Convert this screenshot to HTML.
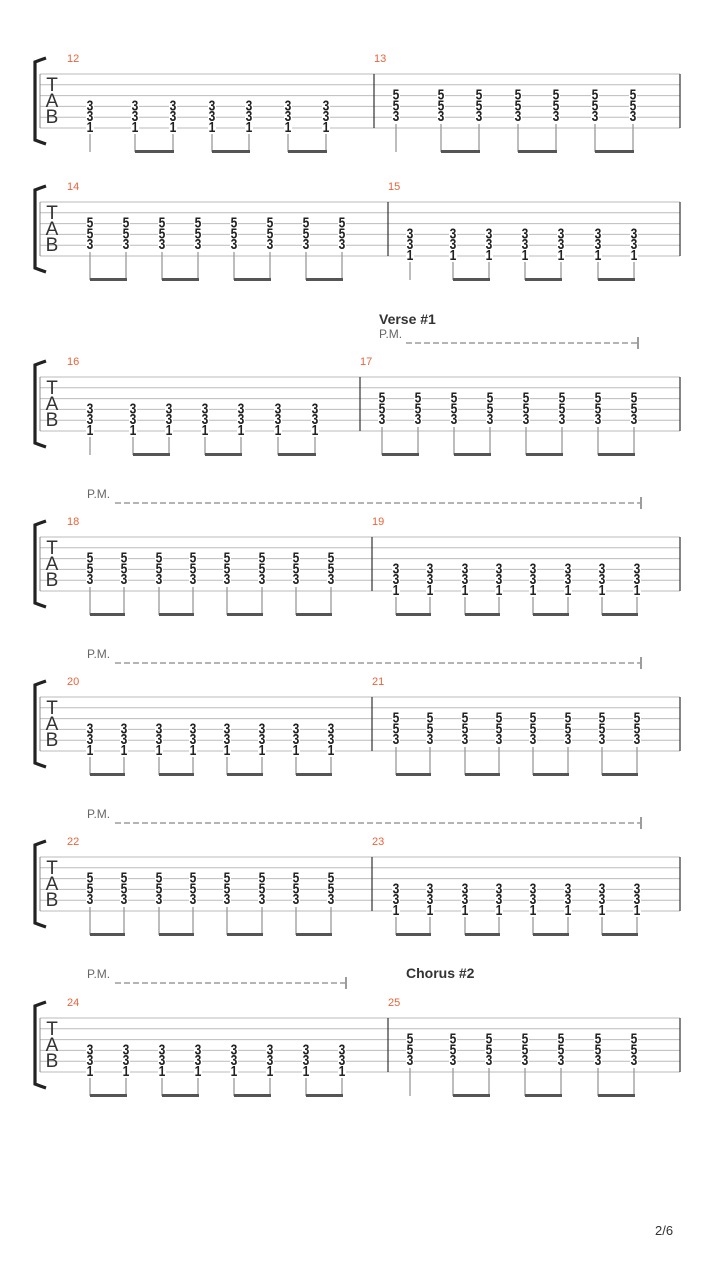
<!DOCTYPE html>
<html><head><meta charset="utf-8"><style>
html,body{margin:0;padding:0;background:#fff;}
svg{display:block;font-family:"Liberation Sans","DejaVu Sans",sans-serif;}
</style></head><body>
<svg id="s" width="720" height="1280" xmlns="http://www.w3.org/2000/svg"></svg>
<script>
var S=[
 {t:74,bar:374,m:[12,13],a:{x:[90,135,173,212,249,288,326],c:'331',single:1},b:{x:[396,441,479,518,556,595,633],c:'553',single:1}},
 {t:202,bar:388,m:[14,15],a:{x:[90,126,162,198,234,270,306,342],c:'553'},b:{x:[410,453,489,525,561,598,634],c:'331',single:1}},
 {t:377,bar:360,m:[16,17],a:{x:[90,133,169,205,241,278,315],c:'331',single:1},b:{x:[382,418,454,490,526,562,598,634],c:'553'}},
 {t:537,bar:372,m:[18,19],a:{x:[90,124,159,193,227,262,296,331],c:'553'},b:{x:[396,430,465,499,533,568,602,637],c:'331'}},
 {t:697,bar:372,m:[20,21],a:{x:[90,124,159,193,227,262,296,331],c:'331'},b:{x:[396,430,465,499,533,568,602,637],c:'553'}},
 {t:857,bar:372,m:[22,23],a:{x:[90,124,159,193,227,262,296,331],c:'553'},b:{x:[396,430,465,499,533,568,602,637],c:'331'}},
 {t:1018,bar:388,m:[24,25],a:{x:[90,126,162,198,234,270,306,342],c:'331'},b:{x:[410,453,489,525,561,598,634],c:'553',single:1}}
];
var h='';var sp=10.8;
function notes(m,t){
 var xs=m.x,c=m.c;var off=(c=='553')?2:3;var bot=t+5*sp;
 xs.forEach(function(x){for(var i=0;i<3;i++){var y=t+(off+i)*sp-1.5;
  h+='<rect x="'+(x-4)+'" y="'+(y-5)+'" width="8" height="10" fill="#fff"/>';
  h+='<text x="'+x+'" y="'+(y+5.5)+'" font-size="15" font-weight="bold" text-anchor="middle" fill="#222" transform="translate('+x+' '+y+') scale(0.8 1) translate('+(-x)+' '+(-y)+')">'+c[i]+'</text>';}
  var st=(c=='553')?bot-4:bot+6;
  h+='<line x1="'+x+'" y1="'+st+'" x2="'+x+'" y2="'+(bot+24)+'" stroke="#999" stroke-width="1.3"/>';});
 var i0=m.single?1:0;
 for(var i=i0;i+1<xs.length;i+=2){h+='<rect x="'+xs[i]+'" y="'+(bot+22)+'" width="'+(xs[i+1]-xs[i]+1)+'" height="3" fill="#555"/>';}
}
S.forEach(function(s){var t=s.t;
 for(var i=0;i<6;i++){var y=t+i*sp;h+='<line x1="40" y1="'+y+'" x2="680" y2="'+y+'" stroke="#bbb" stroke-width="1"/>';}
 h+='<line x1="40" y1="'+t+'" x2="40" y2="'+(t+54)+'" stroke="#888"/>';
 h+='<line x1="'+s.bar+'" y1="'+t+'" x2="'+s.bar+'" y2="'+(t+54)+'" stroke="#333" stroke-width="1.2"/>';
 h+='<line x1="680" y1="'+t+'" x2="680" y2="'+(t+54)+'" stroke="#333" stroke-width="1.2"/>';
 h+='<path d="M46 '+(t-16)+' Q40 '+(t-14)+' 35 '+(t-12)+' L35 '+(t+66)+' Q40 '+(t+68)+' 46 '+(t+70)+'" fill="none" stroke="#222" stroke-width="3.2"/>';
 h+='<text x="52" y="'+(t+17)+'" font-size="19" text-anchor="middle" fill="#333">T</text>';
 h+='<text x="52" y="'+(t+33)+'" font-size="19" text-anchor="middle" fill="#333">A</text>';
 h+='<text x="52" y="'+(t+49)+'" font-size="19" text-anchor="middle" fill="#333">B</text>';
 h+='<text x="67" y="'+(t-12)+'" font-size="11" fill="#e8643c">'+s.m[0]+'</text>';
 h+='<text x="'+s.bar+'" y="'+(t-12)+'" font-size="11" fill="#e8643c">'+s.m[1]+'</text>';
 notes(s.a,t);notes(s.b,t);
});
function pm(x,y,x1,x2){h+='<text x="'+x+'" y="'+(y+4)+'" font-size="12" fill="#666">P.M.</text>';
 h+='<line x1="'+x1+'" y1="'+(y+9)+'" x2="'+x2+'" y2="'+(y+9)+'" stroke="#888" stroke-width="1.3" stroke-dasharray="6,3"/>';
 h+='<line x1="'+(x2+1)+'" y1="'+(y+3)+'" x2="'+(x2+1)+'" y2="'+(y+15)+'" stroke="#666" stroke-width="1.3"/>';}
h+='<text x="379" y="324" font-size="14" font-weight="bold" fill="#333">Verse #1</text>';
pm(379,334,406,637);pm(87,494,115,640);pm(87,654,115,640);pm(87,814,115,640);pm(87,974,115,345);
h+='<text x="406" y="978" font-size="14" font-weight="bold" fill="#333">Chorus #2</text>';
h+='<text x="655" y="1235" font-size="13" fill="#333">2/6</text>';
document.getElementById('s').innerHTML=h;
</script>
</body></html>
